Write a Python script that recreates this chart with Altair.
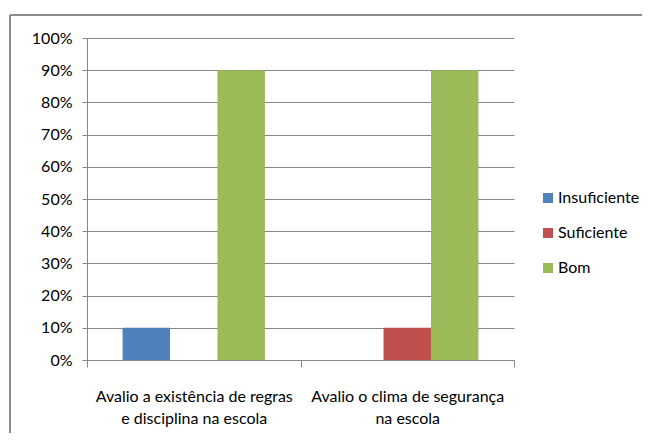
import altair as alt
import pandas as pd

categories = ["Avalio a existência de regras|e disciplina na escola",
              "Avalio o clima de segurança|na escola"]
series = ["Insuficiente", "Suficiente", "Bom"]
values_cat1 = [0.10, 0.0, 0.90]
values_cat2 = [0.0, 0.10, 0.90]
colors = ["#4F81BD", "#C0504D", "#9BBB59"]

rows = []
for s, v in zip(series, values_cat1):
    rows.append({"cat": categories[0], "serie": s, "val": v})
for s, v in zip(series, values_cat2):
    rows.append({"cat": categories[1], "serie": s, "val": v})
df = pd.DataFrame(rows)

FONT = "Lato"
GRID = "#878787"

bars = alt.Chart(df).mark_bar().encode(
    x=alt.X("cat:N", sort=categories,
            scale=alt.Scale(paddingInner=0, paddingOuter=0),
            axis=alt.Axis(title=None, labelAngle=0, labelExpr="split(datum.label, '|')",
                          tickBand="extent", tickSize=7, tickColor=GRID, domainColor=GRID,
                          labelFont=FONT, labelFontSize=16, labelColor="#000000",
                          labelLineHeight=22, labelPadding=21, labelLimit=300)),
    xOffset=alt.XOffset("serie:N", sort=series,
                        scale=alt.Scale(paddingInner=0, paddingOuter=0.75)),
    y=alt.Y("val:Q", scale=alt.Scale(domain=[0, 1], nice=False),
            axis=alt.Axis(title=None, format=".0%", values=[i / 10 for i in range(11)],
                          gridColor=GRID, tickColor=GRID, domainColor=GRID, tickSize=5,
                          labelFont=FONT, labelFontSize=16, labelColor="#000000",
                          labelPadding=10)),
    color=alt.Color("serie:N", sort=series,
                    scale=alt.Scale(domain=series, range=colors),
                    legend=alt.Legend(title=None, orient="none", legendX=453, legendY=152,
                                      symbolType="square", symbolSize=100,
                                      symbolStrokeWidth=0, labelFont=FONT,
                                      labelFontSize=16, labelColor="#000000",
                                      rowPadding=19, labelOffset=2)),
)

one = pd.DataFrame({"a": [0]})
top_line = alt.Chart(one).mark_rule(color="#8c8c8c", strokeWidth=2).encode(
    x=alt.value(-77), x2=alt.value(600), y=alt.value(-23))
left_line = alt.Chart(one).mark_rule(color="#8c8c8c", strokeWidth=2).encode(
    x=alt.value(-77), y=alt.value(-23), y2=alt.value(420))

chart = alt.layer(bars, top_line, left_line).properties(
    width=427, height=322,
    padding={"left": 79, "top": 30, "right": 128, "bottom": 73},
    autosize=alt.AutoSizeParams(type="none"),
    background="white",
).configure_view(stroke=None)

chart.save("out.html", embed_options={"renderer": "svg", "actions": False})
